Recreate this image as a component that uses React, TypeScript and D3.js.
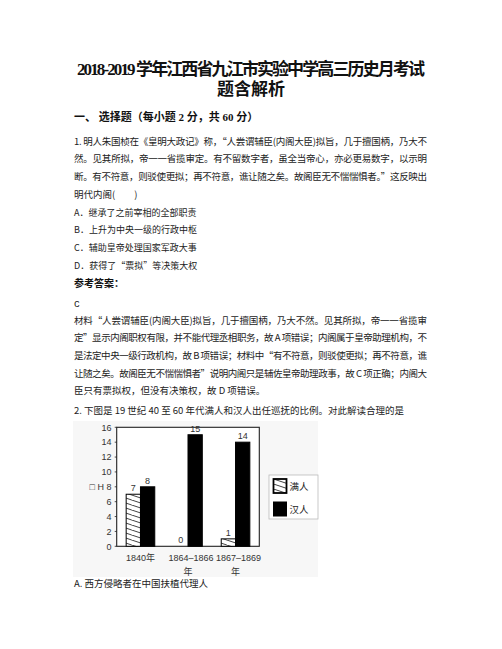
import React from "react";
import * as d3 from "d3";

// page text
const titleLines = ["2018-2019 学年江西省九江市实验中学高三历史月考试", "题含解析"];
const sectionHeading = "一、 选择题（每小题 2 分，共 60 分）";
const questionLines = [
  "1. 明人朱国桢在《皇明大政记》称，“人尝谓辅臣(内阁大臣)拟旨，几于擅国柄，乃大不",
  "然。见其所拟，帝一一省揽审定。有不留数字者，虽全当帝心，亦必更易数字，以示明",
  "断。有不符意，则驳使更拟；再不符意，谯让随之矣。故阁臣无不惴惴惧者。”这反映出",
  "明代内阁(　　)",
];
const options = [
  "A．继承了之前宰相的全部职责",
  "B．上升为中央一级的行政中枢",
  "C．辅助皇帝处理国家军政大事",
  "D．获得了“票拟”等决策大权",
];
const answerLabel = "参考答案：";
const answer = "C";
const explanationLines = [
  "材料“人尝谓辅臣(内阁大臣)拟旨，几于擅国柄，乃大不然。见其所拟，帝一一省揽审",
  "定”显示内阁职权有限，并不能代理丞相职务，故 A 项错误；内阁属于皇帝助理机构，不",
  "是法定中央一级行政机构，故 B 项错误；材料中“有不符意，则驳使更拟；再不符意，谯",
  "让随之矣。故阁臣无不惴惴惧者”说明内阁只是辅佐皇帝助理政事，故 C 项正确；内阁大",
  "臣只有票拟权，但没有决策权，故 D 项错误。",
];
const question2 = "2. 下图是 19 世纪 40 至 60 年代满人和汉人出任巡抚的比例。对此解读合理的是";
const optionBelow = "A. 西方侵略者在中国扶植代理人";

// chart data
const categories = ["1840年", "1864–1866年", "1867–1869年"];
const categoryLines = [["1840年"], ["1864–1866", "年"], ["1867–1869", "年"]];
const series = ["满人", "汉人"];
const manchu = [7, 0, 1];
const han = [8, 15, 14];
const yAxisTitle = "□ H";

const W = 502;
const H = 649;
const LEFT = 74;
const RIGHT = 427;
const LINE = 17.7;

const titleFont = "'Liberation Serif', 'Noto Sans CJK SC', serif";
const bodyFont = "'Noto Sans CJK SC', 'Liberation Serif', serif";
const chartFont = "'Liberation Sans', 'Noto Sans CJK SC', sans-serif";

function Chart() {
  const plot = { x0: 116.7, x1: 259.3, y0: 427.3, y1: 546.3 };
  const x = d3.scaleBand<string>().domain(categories).range([plot.x0, plot.x1]).padding(0);
  const barW = 14.3;
  const sub = d3
    .scaleBand<string>()
    .domain(series)
    .range([x.bandwidth() / 2 - barW, x.bandwidth() / 2 + barW]);
  const y = d3.scaleLinear().domain([0, 16]).range([plot.y1, plot.y0]);
  const values = [manchu, han];

  return (
    <g fontFamily={chartFont}>
      <defs>
        <pattern id="hatch" patternUnits="userSpaceOnUse" width={15} height={5}>
          <rect width={15} height={5} fill="white" />
          <line x1={0} y1={0} x2={15} y2={5} stroke="#111" strokeWidth={0.8} />
          <line x1={-15} y1={0} x2={0} y2={5} stroke="#111" strokeWidth={0.8} />
          <line x1={0} y1={-5} x2={15} y2={0} stroke="#111" strokeWidth={0.8} />
        </pattern>
      </defs>
      <rect x={73} y={421} width={245} height={156} fill="#f7f7f7" />
      <rect
        x={plot.x0}
        y={plot.y0}
        width={plot.x1 - plot.x0}
        height={plot.y1 - plot.y0}
        fill="white"
        stroke="#222"
        strokeWidth={1.1}
      />
      {y.ticks(8).map((t) => (
        <g key={t}>
          <line x1={plot.x0 - 2} x2={plot.x0} y1={y(t)} y2={y(t)} stroke="#222" strokeWidth={0.8} />
          <text x={111.5} y={y(t) + 3.2} fontSize={9} textAnchor="end" fill="#333">
            {t}
          </text>
        </g>
      ))}
      <text x={104} y={y(8) + 3.2} fontSize={9} textAnchor="end" fill="#333">
        {yAxisTitle}
      </text>
      {categories.map((c, i) => (
        <g key={c} transform={`translate(${x(c)},0)`}>
          {series.map((s, j) => {
            const v = values[j][i];
            const bx = sub(s) ?? 0;
            return (
              <g key={s}>
                {v > 0 && (
                  <rect
                    x={bx}
                    y={y(v)}
                    width={barW}
                    height={y(0) - y(v)}
                    fill={j === 0 ? "url(#hatch)" : "#000"}
                    stroke="#000"
                    strokeWidth={1}
                  />
                )}
                <text x={bx + barW / 2} y={y(v) - 3} fontSize={9} textAnchor="middle" fill="#333">
                  {v}
                </text>
              </g>
            );
          })}
          {categoryLines[i].map((ln, k) => (
            <text
              key={k}
              x={x.bandwidth() / 2 + (k === 0 && categoryLines[i].length > 1 ? 3 : 0)}
              y={561 + k * 14}
              fontSize={9}
              textAnchor="middle"
              fill="#333"
            >
              {ln}
            </text>
          ))}
        </g>
      ))}
      <rect x={269} y={475} width={49} height={44} fill="white" stroke="#bbb" strokeWidth={0.8} />
      {series.map((s, j) => (
        <g key={s} transform={`translate(273.5,${479 + j * 23})`}>
          <rect
            x={0}
            y={0}
            width={13}
            height={14}
            fill={j === 0 ? "url(#hatch)" : "#000"}
            stroke="#000"
            strokeWidth={j === 0 ? 1.8 : 1}
          />
          <text x={16} y={11} fontSize={9.5} fill="#222">
            {s}
          </text>
        </g>
      ))}
    </g>
  );
}

export default function App() {
  const justify = (i: number, n: number) => i < n - 1;
  return (
    <svg
      width={W}
      height={H}
      style={{ position: "absolute", left: 0, top: 0, background: "white" }}
    >
      <rect width={W} height={H} fill="white" />
      <g fontFamily={titleFont} fontWeight={700} fill="#111">
        <text x={251} y={75} fontSize={17} textAnchor="middle" textLength={348} lengthAdjust="spacing">
          {titleLines[0]}
        </text>
        <text x={251} y={95} fontSize={17} textAnchor="middle">
          {titleLines[1]}
        </text>
        <text x={LEFT} y={121} fontSize={11}>
          {sectionHeading}
        </text>
      </g>
      <g fontFamily={bodyFont} fontSize={9.5} fill="#222">
        {questionLines.map((ln, i) => (
          <text
            key={i}
            x={LEFT}
            y={144.5 + i * LINE}
            textLength={justify(i, questionLines.length) ? RIGHT - LEFT : undefined}
            lengthAdjust="spacing"
          >
            {ln}
          </text>
        ))}
        {options.map((ln, i) => (
          <text key={ln} x={LEFT} y={215.5 + i * LINE} fontSize={9}>
            {ln}
          </text>
        ))}
        <text x={LEFT} y={287} fontWeight={700} fontSize={10} fill="#111">
          {answerLabel}
        </text>
        <text x={LEFT} y={307} fontFamily="'Liberation Mono', monospace">
          {answer}
        </text>
        {explanationLines.map((ln, i) => (
          <text
            key={i}
            x={LEFT}
            y={323.5 + i * LINE}
            textLength={justify(i, explanationLines.length) ? RIGHT - LEFT : undefined}
            lengthAdjust="spacing"
          >
            {ln}
          </text>
        ))}
        <text x={LEFT} y={413.5}>
          {question2}
        </text>
        <text x={LEFT} y={586.5}>
          {optionBelow}
        </text>
      </g>
      <Chart />
    </svg>
  );
}
